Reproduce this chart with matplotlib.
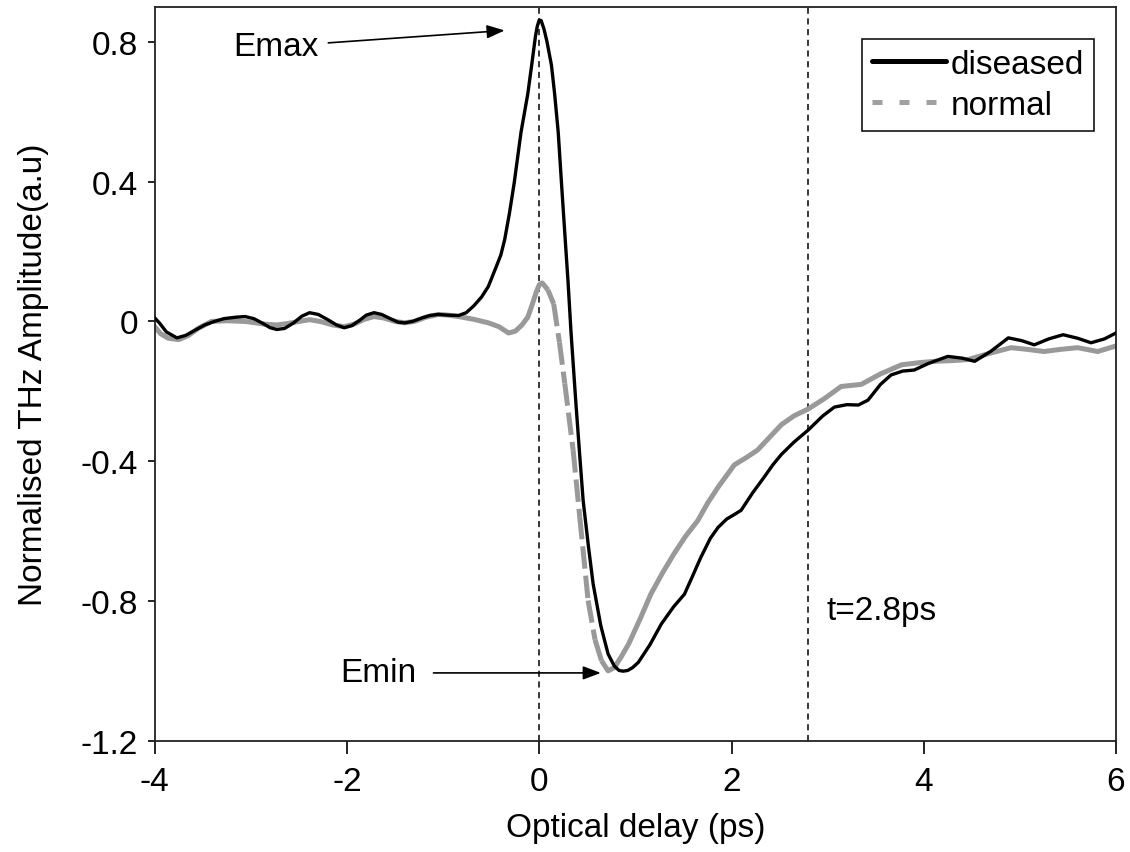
import matplotlib
matplotlib.use("Agg")
import matplotlib.pyplot as plt
from matplotlib.collections import LineCollection
from matplotlib.lines import Line2D
import numpy as np

plt.rcParams['font.family'] = ['Liberation Sans', 'DejaVu Sans']

# values (optical delay in ps, normalised amplitude)
diseased_x = [-4.0, -3.95, -3.88, -3.77, -3.68, -3.58, -3.48, -3.38, -3.28, -3.16,
              -3.06, -2.97, -2.88, -2.80, -2.73, -2.65, -2.56, -2.47, -2.39, -2.30,
              -2.20, -2.11, -2.03, -1.95, -1.87, -1.80, -1.72, -1.64, -1.55, -1.47,
              -1.40, -1.32, -1.22, -1.14, -1.05, -0.95, -0.84, -0.76, -0.68, -0.60,
              -0.53, -0.45, -0.40, -0.36, -0.31, -0.26, -0.19, -0.12, -0.08, -0.04,
              -0.02, 0.0, 0.02, 0.05, 0.08, 0.127, 0.16, 0.197, 0.23, 0.265,
              0.30, 0.33, 0.38, 0.42, 0.456, 0.51, 0.56, 0.64, 0.716, 0.78,
              0.83, 0.872, 0.92, 0.97, 1.03, 1.15, 1.27, 1.40, 1.51, 1.60,
              1.68, 1.78, 1.86, 1.95, 2.03, 2.10, 2.22, 2.34, 2.43, 2.52,
              2.65, 2.80, 2.95, 3.07, 3.20, 3.32, 3.42, 3.55, 3.66, 3.78,
              3.90, 4.05, 4.25, 4.40, 4.53, 4.70, 4.88, 5.02, 5.15, 5.30,
              5.45, 5.60, 5.74, 5.88, 6.0]
diseased_y = [0.01, -0.005, -0.03, -0.047, -0.04, -0.025, -0.01, 0.0, 0.008, 0.012,
              0.014, 0.008, -0.005, -0.018, -0.023, -0.02, -0.005, 0.015, 0.025, 0.02,
              0.005, -0.01, -0.018, -0.012, 0.003, 0.018, 0.025, 0.02, 0.008, -0.002,
              -0.004, 0.0, 0.01, 0.017, 0.02, 0.018, 0.017, 0.025, 0.045, 0.07,
              0.10, 0.155, 0.19, 0.234, 0.31, 0.398, 0.541, 0.65, 0.731, 0.815,
              0.845, 0.862, 0.86, 0.835, 0.80, 0.732, 0.65, 0.541, 0.40, 0.254,
              0.11, -0.03, -0.23, -0.38, -0.511, -0.64, -0.75, -0.87, -0.951, -0.985,
              -0.998, -1.0, -0.998, -0.99, -0.975, -0.925, -0.865, -0.815, -0.78, -0.725,
              -0.675, -0.62, -0.589, -0.565, -0.552, -0.54, -0.49, -0.445, -0.41, -0.38,
              -0.345, -0.31, -0.27, -0.245, -0.238, -0.239, -0.225, -0.18, -0.153, -0.142,
              -0.139, -0.12, -0.10, -0.105, -0.114, -0.085, -0.047, -0.055, -0.067, -0.05,
              -0.038, -0.048, -0.061, -0.05, -0.033]

normal_x = [-4.0, -3.94, -3.86, -3.75, -3.65, -3.55, -3.41, -3.25, -3.06, -2.95,
            -2.85, -2.73, -2.62, -2.50, -2.39, -2.28, -2.15, -2.03, -1.93, -1.82,
            -1.72, -1.62, -1.50, -1.40, -1.30, -1.18, -1.05, -0.95, -0.84, -0.68,
            -0.53, -0.42, -0.32, -0.25, -0.18, -0.12, -0.08, -0.03, 0.0, 0.03,
            0.09, 0.15, 0.21, 0.265, 0.352, 0.421, 0.508, 0.58, 0.647, 0.716,
            0.78, 0.85, 0.93, 1.05, 1.16, 1.28, 1.40, 1.52, 1.65, 1.75,
            1.86, 2.03, 2.15, 2.27, 2.40, 2.52, 2.65, 2.80, 2.97, 3.14,
            3.35, 3.55, 3.77, 3.95, 4.11, 4.30, 4.46, 4.70, 4.91, 5.08,
            5.25, 5.42, 5.60, 5.81, 6.0]
normal_y = [-0.015, -0.035, -0.048, -0.052, -0.04, -0.02, 0.0, 0.002, 0.0, -0.004,
            -0.008, -0.01, -0.006, 0.0, 0.005, 0.0, -0.01, -0.015, -0.008, 0.006,
            0.014, 0.01, 0.0, -0.004, 0.0, 0.012, 0.02, 0.018, 0.014, 0.006,
            -0.004, -0.015, -0.033, -0.028, -0.01, 0.012, 0.043, 0.085, 0.105, 0.11,
            0.09, 0.05, -0.06, -0.177, -0.368, -0.559, -0.798, -0.91, -0.970, -0.999,
            -0.99, -0.96, -0.922, -0.85, -0.78, -0.72, -0.665, -0.615, -0.569, -0.52,
            -0.474, -0.41, -0.39, -0.368, -0.33, -0.295, -0.27, -0.25, -0.22, -0.186,
            -0.18, -0.15, -0.124, -0.118, -0.114, -0.112, -0.109, -0.09, -0.075, -0.08,
            -0.086, -0.08, -0.075, -0.086, -0.07]

markers_x = [0.0, 2.8]
tick_x = [-4, -2, 0, 2, 4, 6]
tick_y = [0.8, 0.4, 0, -0.4, -0.8, -1.2]
tick_y_labels = ['0.8', '0.4', '0', '-0.4', '-0.8', '-1.2']

black = '#000000'
grey = '#999999'
fs = 24

fig = plt.figure(figsize=(11.3, 8.53), dpi=100)
ax = fig.add_axes([0.137, 0.130, 0.8506, 0.861])
ax.set_xlim(-4, 6)
ax.set_ylim(-1.2, 0.9)

# vertical reference lines
for xm in markers_x:
    ax.axvline(xm, color=black, lw=1.1, linestyle=(0, (4, 3)), zorder=1)

# diseased curve
ax.plot(diseased_x, diseased_y, color=black, lw=2.4, solid_joinstyle='round', zorder=3)

# normal curve: solid where flat, dashed on the steep fall (like the original)
nx = np.array(normal_x)
ny = np.array(normal_y)
ipk = int(np.argmax(ny))
imin = int(np.argmin(ny))
ax.plot(nx[:ipk + 1], ny[:ipk + 1], color=grey, lw=3.6, solid_joinstyle='round',
        solid_capstyle='round', zorder=2)
ax.plot(nx[imin:], ny[imin:], color=grey, lw=3.6, solid_joinstyle='round',
        solid_capstyle='round', zorder=2)
segs = [[(nx[i], ny[i]), (nx[i + 1], ny[i + 1])] for i in range(ipk, imin)]
lc = LineCollection(segs, colors=grey, linewidths=3.6,
                    linestyles=[(0, (4.5, 1.4))], capstyle='butt', zorder=2)
ax.add_collection(lc)

# ticks and spines
ax.set_xticks(tick_x)
ax.set_xticklabels([str(t) for t in tick_x])
ax.set_yticks(tick_y)
ax.set_yticklabels(tick_y_labels)
ax.tick_params(axis='x', direction='out', length=9, width=1.2, pad=9, labelsize=fs)
ax.tick_params(axis='y', direction='out', length=5, width=1.2, pad=7, labelsize=fs)
for s in ax.spines.values():
    s.set_linewidth(1.3)
    s.set_color('#222222')

ax.set_xlabel('Optical delay (ps)', fontsize=fs)
ax.set_ylabel('Normalised THz Amplitude(a.u)', fontsize=fs)
ax.xaxis.set_label_coords(0.5, -0.097)
ax.yaxis.set_label_coords(-0.11, 0.5)

# annotations
arrow = dict(arrowstyle='-|>,head_length=0.45,head_width=0.17', color=black, lw=1.2,
             shrinkB=0)
ax.annotate('Emax', xy=(-0.36, 0.832), xytext=(-2.74, 0.786), fontsize=fs,
            ha='center', va='center', arrowprops=dict(arrow, shrinkA=5))
ax.annotate('Emin', xy=(0.64, -1.005), xytext=(-1.67, -1.005), fontsize=fs,
            ha='center', va='center', arrowprops=dict(arrow, shrinkA=10))
ax.text(2.985, -0.827, 't=2.8ps', fontsize=fs, ha='left', va='center')

# legend
handles = [Line2D([], [], color=black, lw=3.6, solid_capstyle='round'),
           Line2D([], [], color='#a0a0a0', lw=3.6, dashes=(2, 3.4), dash_capstyle='butt')]
leg = ax.legend(handles, ['diseased', 'normal'], loc='upper right',
                bbox_to_anchor=(0.977, 0.956), borderaxespad=0, fontsize=fs,
                frameon=True, fancybox=False, edgecolor=black, framealpha=1,
                handlelength=2.2, handletextpad=0.15, borderpad=0.3,
                labelspacing=0.3)
leg.get_frame().set_linewidth(1.1)

fig.savefig('out.png', dpi=100)
